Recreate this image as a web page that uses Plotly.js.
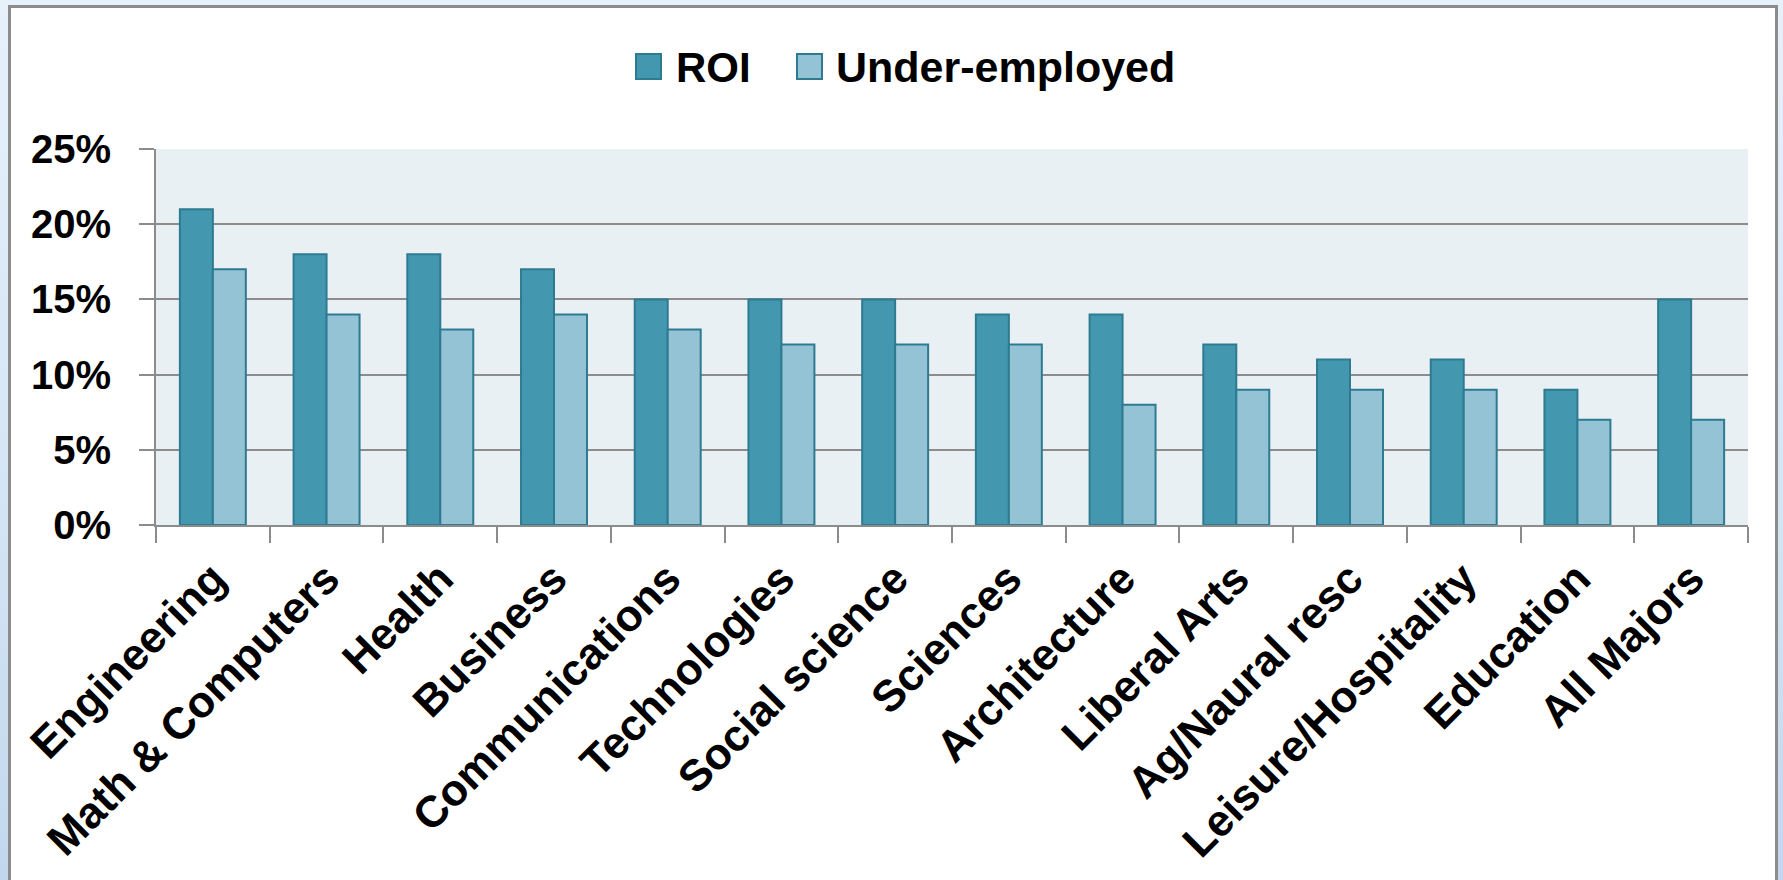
<!DOCTYPE html>
<html>
<head>
<meta charset="utf-8">
<script src="https://cdn.plot.ly/plotly-3.0.1.min.js"></script>
<style>
  html, body { margin: 0; padding: 0; width: 1783px; height: 880px; overflow: hidden; }
  body { background: linear-gradient(to bottom, #e7f1fb 0%, #d3e4f4 60%, #c2d7ee 100%); position: relative; }
  #frame { position: absolute; left: 8px; top: 5px; width: 1770px; height: 1000px; background: #ffffff; border: 3px solid #8c8c8c; box-sizing: border-box; }
  #chart { position: absolute; left: 0; top: 0; width: 1783px; height: 880px; }
</style>
</head>
<body>
<div id="frame"></div>
<div id="chart"></div>
<script>
// ---- data ----
const categories = ["Engineering", "Math & Computers", "Health", "Business", "Communications",
  "Technologies", "Social science", "Sciences", "Architecture", "Liberal Arts",
  "Ag/Naural resc", "Leisure/Hospitality", "Education", "All Majors"];
const roiValues = [21, 18, 18, 17, 15, 15, 15, 14, 14, 12, 11, 11, 9, 15];
const underEmployedValues = [17, 14, 13, 14, 13, 12, 12, 12, 8, 9, 9, 9, 7, 7];
const seriesNames = ["ROI", "Under-employed"];
const yTickValues = [0, 5, 10, 15, 20, 25];

// ---- styling ----
const FONT = "Liberation Sans, Arial, sans-serif";
const GRID = "#8c8c8c";
const roiColor = "#4398b0";
const ueColor = "#94c3d5";
const edgeColor = "#2e7a91";

const W = 1783, H = 880;
const M = { l: 156, r: 35, t: 149, b: 355 };
const plotW = W - M.l - M.r, plotH = H - M.t - M.b;
const px2x = p => (p - M.l) / plotW;
const px2y = p => (H - M.b - p) / plotH;

const traces = [
  { type: "bar", name: seriesNames[0], x: categories, y: roiValues,
    marker: { color: roiColor, line: { color: edgeColor, width: 2 } }, showlegend: false },
  { type: "bar", name: seriesNames[1], x: categories, y: underEmployedValues,
    marker: { color: ueColor, line: { color: edgeColor, width: 2 } }, showlegend: false }
];

// custom legend (large square keys like the original)
const legendShapes = [
  { type: "rect", xref: "paper", yref: "paper", x0: px2x(636), x1: px2x(661), y0: px2y(79), y1: px2y(54),
    fillcolor: roiColor, line: { color: edgeColor, width: 2 } },
  { type: "rect", xref: "paper", yref: "paper", x0: px2x(797), x1: px2x(822), y0: px2y(79), y1: px2y(54),
    fillcolor: ueColor, line: { color: edgeColor, width: 2 } }
];
const legendAnnotations = [
  { xref: "paper", yref: "paper", x: px2x(674), y: px2y(67), xanchor: "left", yanchor: "middle",
    text: seriesNames[0], showarrow: false, font: { family: FONT, size: 42, color: "#000", weight: "bold" } },
  { xref: "paper", yref: "paper", x: px2x(834), y: px2y(67), xanchor: "left", yanchor: "middle",
    text: seriesNames[1], showarrow: false, font: { family: FONT, size: 43, color: "#000", weight: "bold" } }
];

const layout = {
  width: W, height: H,
  margin: M,
  paper_bgcolor: "rgba(0,0,0,0)",
  plot_bgcolor: "#e8f0f4",
  barmode: "group",
  bargap: 0.42,
  bargroupgap: 0,
  showlegend: false,
  font: { family: FONT, color: "#000" },
  xaxis: {
    type: "category",
    tickangle: -45,
    tickson: "boundaries",
    ticks: "outside", ticklen: 16, tickwidth: 2, tickcolor: GRID,
    showline: true, linecolor: GRID, linewidth: 2,
    showgrid: false,
    ticklabelstandoff: 8,
    tickfont: { family: FONT, size: 44, color: "#000", weight: "bold" }
  },
  yaxis: {
    range: [0, 25],
    tickvals: yTickValues,
    ticktext: yTickValues.map(v => v + "%"),
    ticks: "outside", ticklen: 15, tickwidth: 2, tickcolor: GRID,
    showline: true, linecolor: GRID, linewidth: 2,
    showgrid: true, gridcolor: GRID, gridwidth: 2,
    zeroline: false,
    ticklabelstandoff: 20,
    tickfont: { family: FONT, size: 40, color: "#000", weight: "bold" }
  },
  shapes: legendShapes,
  annotations: legendAnnotations
};

Plotly.newPlot("chart", traces, layout, { displayModeBar: false, staticPlot: true });
</script>
</body>
</html>
